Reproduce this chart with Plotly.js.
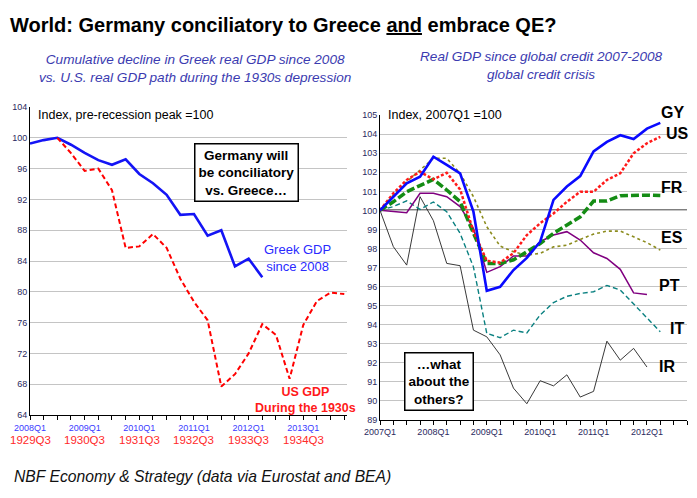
<!DOCTYPE html>
<html>
<head>
<meta charset="utf-8">
<script src="https://cdn.plot.ly/plotly-3.0.1.min.js"></script>
<style>html,body{margin:0;padding:0;background:#fff;}#chart{width:697px;height:498px;}</style>
</head>
<body>
<div id="chart"></div>
<script>
// ---------- DATA ----------
const quartersLeft = ['2008Q1','2008Q2','2008Q3','2008Q4','2009Q1','2009Q2','2009Q3','2009Q4',
  '2010Q1','2010Q2','2010Q3','2010Q4','2011Q1','2011Q2','2011Q3','2011Q4',
  '2012Q1','2012Q2','2012Q3','2012Q4','2013Q1','2013Q2','2013Q3','2013Q4'];
const leftYearLabels = ['2008Q1','2009Q1','2010Q1','2011Q1','2012Q1','2013Q1'];
const depressionLabels = ['1929Q3','1930Q3','1931Q3','1932Q3','1933Q3','1934Q3'];

// Greek real GDP, 2008Q1..2012Q2
const greekGDP = [99.25, 99.7, 100.0, 99.1, 98.05, 97.1, 96.5, 97.2, 95.3, 94.1, 92.6, 90.0,
  90.1, 87.3, 88.0, 83.3, 84.3, 81.9];
// US GDP in the 1930s, plotted from 2008Q3..2013Q4
const usGDP1930s = [100.0, 98.0, 95.7, 96.0, 93.2, 85.7, 85.9, 87.5, 85.7, 81.7, 78.7, 76.3,
  67.7, 69.3, 72.0, 75.8, 74.4, 68.7, 75.7, 78.8, 79.9, 79.7];

const quartersRight = ['2007Q1','2007Q2','2007Q3','2007Q4','2008Q1','2008Q2','2008Q3','2008Q4',
  '2009Q1','2009Q2','2009Q3','2009Q4','2010Q1','2010Q2','2010Q3','2010Q4',
  '2011Q1','2011Q2','2011Q3','2011Q4','2012Q1','2012Q2','2012Q3','2012Q4'];
const rightYearLabels = ['2007Q1','2008Q1','2009Q1','2010Q1','2011Q1','2012Q1'];

const seriesGY = [100, 100.72, 101.42, 101.77, 102.82, 102.39, 101.95, 99.93, 95.77, 95.98, 96.86,
  97.5, 98.35, 100.55, 101.25, 101.8, 103.1, 103.6, 103.95, 103.75, 104.3, 104.6];
const seriesUS = [100, 100.9, 101.6, 102.03, 101.63, 101.98, 101.1, 98.9, 97.35, 97.25, 97.75,
  98.7, 99.32, 99.84, 100.45, 100.98, 100.98, 101.6, 101.95, 103.0, 103.53, 103.87];
const seriesFR = [100, 100.45, 100.98, 101.33, 101.63, 101.07, 100.46, 98.8, 97.2, 97.2, 97.4,
  97.82, 98.26, 98.79, 99.23, 99.66, 100.49, 100.49, 100.77, 100.8, 100.8, 100.78];
const seriesES = [100, 100.8, 101.5, 102.1, 102.74, 102.74, 101.95, 100.72, 99.14, 98.12, 97.82,
  97.65, 97.74, 98.08, 98.17, 98.47, 98.75, 98.91, 98.91, 98.61, 98.3, 97.91];
const seriesPT = [100, 99.93, 99.88, 100.9, 100.9, 100.72, 100.2, 99.05, 96.74, 97.04, 97.6,
  97.6, 98.35, 98.7, 98.88, 98.44, 97.77, 97.47, 96.9, 95.66, 95.58];
const seriesIT = [100, 100.2, 100.5, 100.05, 100.44, 99.93, 98.79, 97.03, 93.53, 93.3, 93.7,
  93.55, 94.5, 95.15, 95.48, 95.63, 95.72, 96.05, 95.81, 95.07, 94.37, 93.61];
const seriesIR = [100, 98.09, 97.12, 100.72, 99.46, 97.21, 97.09, 93.7, 93.35, 92.4, 90.65,
  89.83, 91.04, 90.77, 91.35, 90.18, 90.48, 93.12, 92.12, 92.74, 91.76];
const seriesNames = ['GY','US','FR','ES','PT','IT','IR'];

// ---------- LAYOUT HELPERS ----------
const W = 697, H = 498;
const px = x => x / W;
const py = y => 1 - y / H;
const NARROW = '"Liberation Sans Narrow", "Arial Narrow", "Liberation Sans", Arial, sans-serif';
const SANS = '"Liberation Sans", Arial, sans-serif';

const traces = [
  {x: quartersLeft.slice(0, greekGDP.length), y: greekGDP, xaxis: 'x', yaxis: 'y', mode: 'lines',
   line: {color: '#1414f5', width: 2.6}},
  {x: quartersLeft.slice(2, 2 + usGDP1930s.length), y: usGDP1930s, xaxis: 'x', yaxis: 'y', mode: 'lines',
   line: {color: '#ff0000', width: 2, dash: '5px,3px'}},
  {x: quartersRight.slice(0, seriesIR.length), y: seriesIR, xaxis: 'x2', yaxis: 'y2', mode: 'lines',
   line: {color: '#222222', width: 0.9}},
  {x: quartersRight.slice(0, seriesIT.length), y: seriesIT, xaxis: 'x2', yaxis: 'y2', mode: 'lines',
   line: {color: '#0a8080', width: 1.4, dash: '5px,3px'}},
  {x: quartersRight.slice(0, seriesPT.length), y: seriesPT, xaxis: 'x2', yaxis: 'y2', mode: 'lines',
   line: {color: '#800080', width: 1.5}},
  {x: quartersRight.slice(0, seriesES.length), y: seriesES, xaxis: 'x2', yaxis: 'y2', mode: 'lines',
   line: {color: '#8c8c1e', width: 1.6, dash: '3px,3px'}},
  {x: quartersRight.slice(0, seriesFR.length), y: seriesFR, xaxis: 'x2', yaxis: 'y2', mode: 'lines',
   line: {color: '#148c14', width: 3.5, dash: '8px,3px'}},
  {x: quartersRight.slice(0, seriesUS.length), y: seriesUS, xaxis: 'x2', yaxis: 'y2', mode: 'lines',
   line: {color: '#ff1a1a', width: 2.5, dash: '3px,2px'}},
  {x: quartersRight.slice(0, seriesGY.length), y: seriesGY, xaxis: 'x2', yaxis: 'y2', mode: 'lines',
   line: {color: '#0a0aff', width: 2.6}}
];

const annotations = [];
function txt(x, y, text, font, extra) {
  annotations.push(Object.assign({xref: 'paper', yref: 'paper', x: px(x), y: py(y), text: text,
    showarrow: false, font: font, xanchor: 'center', yanchor: 'middle'}, extra || {}));
}
// title & subtitles
txt(8, 25, '<b>World: Germany conciliatory to Greece <u>and</u> embrace QE?</b>',
  {family: SANS, size: 20, color: '#000'}, {xanchor: 'left'});
txt(195, 69, '<i>Cumulative decline in Greek real GDP since 2008<br>vs. U.S. real GDP path during the 1930s depression</i>',
  {family: NARROW, size: 13.6, color: '#3b3bb0'});
txt(541, 66, '<i>Real GDP since global credit 2007-2008<br>global credit crisis</i>',
  {family: NARROW, size: 13.6, color: '#3b3bb0'});
txt(12, 476, '<i>NBF Economy &amp; Strategy (data via Eurostat and BEA)</i>',
  {family: SANS, size: 15.7, color: '#111'}, {xanchor: 'left'});
// in-plot notes
txt(36, 115, 'Index, pre-recession peak =100', {family: SANS, size: 12.5, color: '#000'}, {xanchor: 'left'});
txt(386, 115, 'Index, 2007Q1 =100', {family: SANS, size: 12.5, color: '#000'}, {xanchor: 'left'});
txt(246, 172, '<b>Germany will<br>be conciliatory<br>vs. Greece…</b>', {family: SANS, size: 13.5, color: '#000'},
  {bordercolor: '#000', borderwidth: 1.5, borderpad: 3, bgcolor: '#fff'});
txt(439, 381, '<b>…what<br>about the<br>others?</b>', {family: SANS, size: 13.5, color: '#000'},
  {bordercolor: '#000', borderwidth: 1.5, borderpad: 3, bgcolor: '#fff'});
txt(297, 258, 'Greek GDP<br>since 2008', {family: SANS, size: 13, color: '#2a2aff'});
txt(305, 400, '<b>US GDP<br>During the 1930s</b>', {family: SANS, size: 12.5, color: '#ff1a1a'});
// series labels right
const labelPos = [[672,112],[677,133],[672,187],[672,238],[669,285],[677,328],[667,366]];
seriesNames.forEach((n, i) => txt(labelPos[i][0], labelPos[i][1], '<b>' + n + '</b>', {family: SANS, size: 16, color: '#000'}));
// second row of left x labels (1930s quarters)
depressionLabels.forEach((lab, i) => {
  annotations.push({xref: 'x', yref: 'paper', x: leftYearLabels[i], y: py(440), text: lab, showarrow: false,
    xanchor: 'center', yanchor: 'middle', font: {family: SANS, size: 11.5, color: '#ff2a2a'}});
});

const axBase = {showline: true, linecolor: '#000', linewidth: 1, zeroline: false, fixedrange: true};
const layout = {
  width: W, height: H, margin: {l: 0, r: 0, t: 0, b: 0},
  paper_bgcolor: '#fff', plot_bgcolor: '#fff', showlegend: false,
  xaxis: Object.assign({}, axBase, {domain: [px(30), px(347)], anchor: 'y', type: 'category',
    categoryorder: 'array', categoryarray: quartersLeft, range: [0, 23.2],
    tickmode: 'array', tickvals: quartersLeft,
    ticktext: quartersLeft.map(q => leftYearLabels.includes(q) ? q : ''),
    ticks: 'outside', ticklen: 4, tickcolor: '#000', showgrid: false,
    tickfont: {family: NARROW, size: 9, color: '#3a3aff'}}),
  yaxis: Object.assign({}, axBase, {domain: [py(415), py(107)], anchor: 'x', range: [64, 104], dtick: 4,
    tick0: 64, showgrid: true, gridcolor: '#c4c4c4', gridwidth: 1, ticks: '',
    tickfont: {family: NARROW, size: 9, color: '#2a2a60'}}),
  xaxis2: Object.assign({}, axBase, {domain: [px(380), px(687)], anchor: 'y2', type: 'category',
    categoryorder: 'array', categoryarray: quartersRight, range: [0, 23],
    tickmode: 'array', tickvals: quartersRight,
    ticktext: quartersRight.map(q => rightYearLabels.includes(q) ? q : ''),
    ticks: 'outside', ticklen: 4, tickcolor: '#000', showgrid: false,
    tickfont: {family: NARROW, size: 9, color: '#2a2a60'}}),
  yaxis2: Object.assign({}, axBase, {domain: [py(419.5), py(115.3)], anchor: 'x2', range: [89, 105], dtick: 1,
    tick0: 89, showgrid: true, gridcolor: '#c4c4c4', gridwidth: 1, ticks: '',
    tickfont: {family: NARROW, size: 9, color: '#2a2a60'}}),
  shapes: [
    {type: 'line', xref: 'x2 domain', x0: 0, x1: 1, yref: 'y2', y0: 100, y1: 100,
     line: {color: '#000', width: 1.5}, layer: 'below'},
    {type: 'line', xref: 'x domain', x0: 0.004, x1: 1, yref: 'y', y0: 104, y1: 104,
     line: {color: '#fff', width: 2}, layer: 'above'},
    {type: 'line', xref: 'x2 domain', x0: 0.004, x1: 1, yref: 'y2', y0: 105, y1: 105,
     line: {color: '#fff', width: 2}, layer: 'above'}
  ],
  annotations: annotations
};

Plotly.newPlot('chart', traces, layout, {staticPlot: true, displayModeBar: false});
</script>
</body>
</html>
